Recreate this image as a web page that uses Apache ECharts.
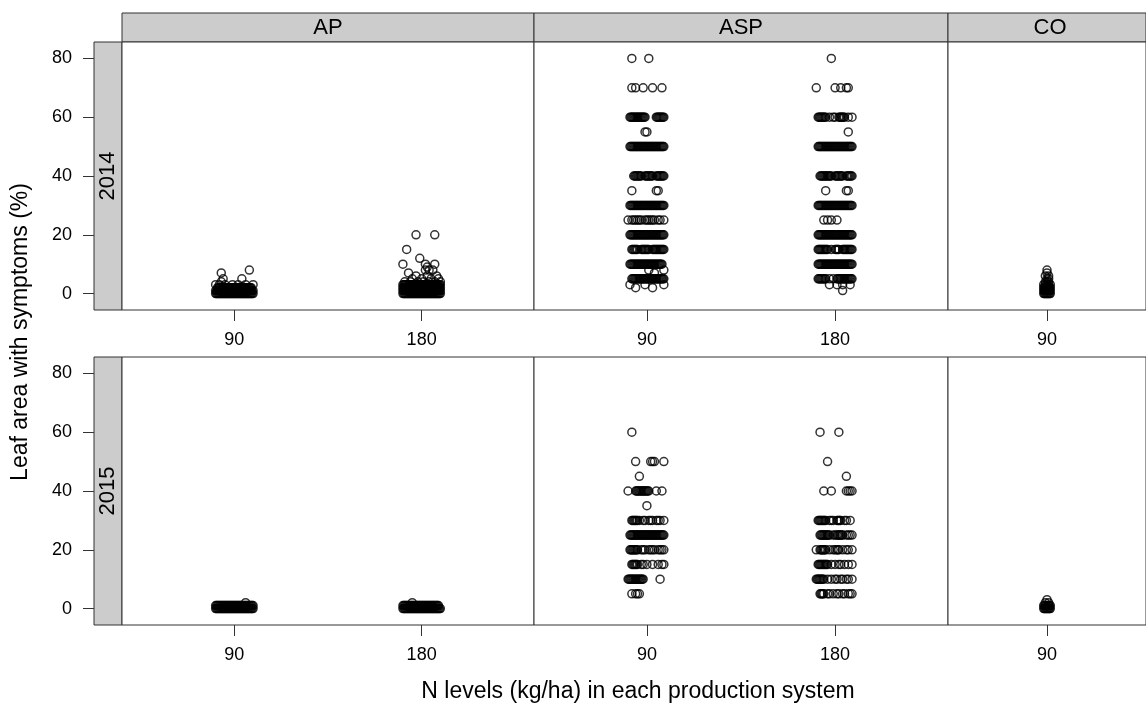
<!DOCTYPE html>
<html>
<head>
<meta charset="utf-8">
<script src="https://cdn.jsdelivr.net/npm/echarts@6/dist/echarts.min.js"></script>
<style>
html,body{margin:0;padding:0;background:#fff;}
#chart{width:1146px;height:706px;}
</style>
</head>
<body>
<div id="chart"></div>
<script>
// ---------- data ----------
const systems = ['AP', 'ASP', 'CO'];
const years = ['2014', '2015'];
const levelsAP = ['90', '180'];
const levelsASP = ['90', '180'];
const levelsCO = ['90'];
const yTicks = [0, 20, 40, 60, 80];
const yTitle = 'Leaf area with symptoms (%)';
const xTitle = 'N levels (kg/ha) in each production system';

// shorthand for a packed run of jittered points (offsets a..b, every half unit)
function run(a, b) { const o = []; for (let v = a; v <= b + 1e-9; v += 0.5) o.push(v); return o; }

// rows: [value (% leaf area), [jitter offsets, in 1/100 of a level step]]
const AP_2014_90 = [
  [0, run(-10, 10)], [1, run(-10, 10)], [2, run(-9, 9)],
  [3, [-10, -8, -5, -1, 2, 6, 10]],
  [4, [-7]], [5, [-6, 4]], [7, [-7]], [8, [8]]
];
const AP_2014_180 = [
  [0, run(-10, 10)], [1, run(-10, 10)], [2, run(-10, 10)], [3, run(-10, 10)],
  [4, [-9, -6, -2, 1, 4, 7, 10]],
  [5, [-5, 0, 5, 9]], [6, [-3, 3, 8]], [7, [-7]],
  [8, [2, 4, 6]], [9, [3]], [10, [-10, 2, 7]],
  [12, [-1]], [15, [-8]], [20, [-3, 7]]
];
const AP_2015_90 = [
  [0, run(-10, 10)], [1, run(-10, 10)], [2, [6]]
];
const AP_2015_180 = [
  [0, run(-10, 10)], [1, run(-10, 9)], [2, [-5]]
];
const ASP_2014_90 = [
  [80, [-8, 1]],
  [70, [-8, -6, -2, 3, 8]],
  [60, [...run(-9, -1), ...run(5, 9)]],
  [55, [-1, 0]],
  [50, run(-9, 9)],
  [40, [...run(-7, -3), ...run(-1, 3), ...run(5, 9)]],
  [35, [-8, 5, 6]],
  [30, run(-9, 9)],
  [25, [-10, -8, -7, -6, -5, -4, -3, -1, 0, 1, 2, 3, 4, 6, 7, 9]],
  [20, run(-9, 9)],
  [15, [...run(-8, -5), ...run(-3, 1), ...run(3, 9)]],
  [10, run(-9, 8)],
  [8, [1, 9]], [7, [4]],
  [5, run(-8, 9)],
  [3, [-9, -1, 9]], [2, [-6, 3]]
];
const ASP_2014_180 = [
  [80, [-2]],
  [70, [-10, 0, 3, 6, 7]],
  [60, [...run(-9, -5), -3, -1, 0, ...run(2, 5), 7, 9]],
  [55, [7]],
  [50, run(-9, 9)],
  [40, [...run(-8, -2), ...run(0, 4), ...run(6, 9)]],
  [35, [-5, 6, 7]],
  [30, run(-9, 9)],
  [25, [-6, -4, -2, 1]],
  [20, run(-9, 9)],
  [15, [...run(-9, -4), -2, ...run(0, 2), ...run(4, 9)]],
  [10, run(-9, 9)],
  [5, [...run(-9, -5), -3, -1, ...run(1, 9)]],
  [3, [-3, 1, 4, 8]], [1, [4]]
];
const ASP_2015_90 = [
  [60, [-8]],
  [50, [-6, 2, 3, 4, 9]],
  [45, [-4]],
  [40, [-10, ...run(-6, 1), 5, 8]],
  [35, [0]],
  [30, [...run(-8, -5), -4, -2, -1, 1, 2, 3, 5, 6, 7, 9]],
  [25, run(-9, 9)],
  [20, [...run(-9, -5), -3, -2, -1, 1, 2, 3, 4, 6, 7, 8, 9]],
  [15, [...run(-8, -5), -3, -2, 0, 3, 6, 8, 9]],
  [10, [...run(-10, -2), 7]],
  [5, [-8, -6, -5, -4]]
];
const ASP_2015_180 = [
  [60, [-8, 2]],
  [50, [-4]],
  [45, [6]],
  [40, [-6, -2, 6, 7, 8, 9]],
  [30, [...run(-9, -5), -3, -2, -1, ...run(1, 3), 5, 6, 8]],
  [25, [...run(-8, -3), -1, 0, ...run(1, 4), 6, 7, 8, 9]],
  [20, [-10, ...run(-8, -5), -3, -1, 0, ...run(1, 2), 4, 6, 7, 9]],
  [15, [...run(-9, -4), -2, 0, 2, 3, 5, 7, 9]],
  [10, [...run(-10, -6), -4, -2, 0, 1, 3, 4, 6, 7, 9]],
  [5, [...run(-8, -6), -4, -3, -1, 1, 2, 4, 5, 7, 8, 9]]
];
const CO_2014_90 = [
  [0, run(-2, 2)], [1, run(-2, 2)], [2, run(-2, 2)],
  [3, [-2, -1, 0, 1, 2]], [4, [-1, 0, 1]], [5, [0, 1]], [6, [-1, 1]], [7, [0]], [8, [0]]
];
const CO_2015_90 = [
  [0, run(-2, 2)], [1, run(-2, 2)], [2, [-1, 1]], [3, [0]]
];

// ---------- layout ----------
const FONT = "'Liberation Sans', Arial, Helvetica, sans-serif";
const Y_MIN = -5.6, Y_MAX = 85.6;
const rowTop = [42, 357], rowH = 268;
const colLeft = [122, 534, 948], colW = [412, 414, 208];
const colLevels = [levelsAP, levelsASP, levelsCO];
const panelGroups = [
  [[AP_2014_90, AP_2014_180], [ASP_2014_90, ASP_2014_180], [CO_2014_90]],
  [[AP_2015_90, AP_2015_180], [ASP_2015_90, ASP_2015_180], [CO_2015_90]]
];

const grid = [], xAxis = [], yAxis = [], series = [];
const hidden = (i, extra) => Object.assign({ gridIndex: i, show: false, type: 'value' }, extra || {});

// row strips (with y axes)
years.forEach((yr, r) => {
  const gi = grid.length;
  grid.push({ left: 94, top: rowTop[r], width: 28, height: rowH, show: true,
    backgroundColor: '#cccccc', borderColor: '#333', borderWidth: 1 });
  xAxis.push(hidden(gi, { min: 0, max: 1 }));
  yAxis.push({
    gridIndex: gi, type: 'value', min: Y_MIN, max: Y_MAX, position: 'left',
    axisLine: { show: false, onZero: false },
    splitLine: { show: false },
    axisTick: { show: true, inside: false, length: 11, customValues: yTicks, lineStyle: { color: '#333', width: 1 } },
    axisLabel: { show: true, customValues: yTicks, margin: 22, fontSize: 18, color: '#000', fontFamily: FONT }
  });
});
// column headers
systems.forEach((s, c) => {
  const gi = grid.length;
  grid.push({ left: colLeft[c], top: 13, width: colW[c], height: 29, show: true,
    backgroundColor: '#cccccc', borderColor: '#333', borderWidth: 1 });
  xAxis.push(hidden(gi, { min: 0, max: 1 }));
  yAxis.push(hidden(gi, { min: 0, max: 1 }));
});
// data panels
years.forEach((yr, r) => {
  systems.forEach((s, c) => {
    const gi = grid.length;
    const lv = colLevels[c];
    const ticks = lv.map((_, i) => i + 1);
    grid.push({ left: colLeft[c], top: rowTop[r], width: colW[c], height: rowH, show: true,
      backgroundColor: '#fff', borderColor: '#333', borderWidth: 1 });
    xAxis.push({
      gridIndex: gi, type: 'value', min: 0.4, max: lv.length + 0.6, position: 'bottom',
      axisLine: { show: false, onZero: false }, splitLine: { show: false },
      axisTick: { show: true, inside: false, length: 11, customValues: ticks, lineStyle: { color: '#333', width: 1 } },
      axisLabel: { show: true, customValues: ticks, margin: 21, fontSize: 18, color: '#000', fontFamily: FONT,
        formatter: v => lv[Math.round(v) - 1] }
    });
    yAxis.push(hidden(gi, { min: Y_MIN, max: Y_MAX }));
    panelGroups[r][c].forEach((rows, li) => {
      const data = [];
      rows.forEach(([val, jit]) => jit.forEach(j => data.push([li + 1 + j / 100, val])));
      series.push({
        type: 'scatter', xAxisIndex: gi, yAxisIndex: gi, data,
        symbol: 'circle', symbolSize: 8,
        itemStyle: { color: 'rgba(0,0,0,0)', borderColor: '#000', borderWidth: 1.5 },
        emphasis: { disabled: true }, silent: true, progressive: 0
      });
    });
  });
});

const txt = (x, y, text, size, rot) => ({
  type: 'text', x, y, rotation: rot || 0, silent: true,
  style: { text, fill: '#000', font: size + 'px ' + FONT, textAlign: 'center', textVerticalAlign: 'middle' }
});
const graphic = [];
systems.forEach((s, c) => graphic.push(txt(colLeft[c] + colW[c] / 2 - (c === 2 ? 2 : 0), 28, s, 22)));
years.forEach((yr, r) => graphic.push(txt(108, rowTop[r] + rowH / 2, yr, 22, Math.PI / 2)));
graphic.push(txt(21, 332, yTitle, 23, Math.PI / 2));
graphic.push(txt(638, 692, xTitle, 23));

const chart = echarts.init(document.getElementById('chart'), null, { renderer: 'canvas' });
chart.setOption({
  animation: false,
  backgroundColor: '#fff',
  grid, xAxis, yAxis, series, graphic
});
</script>
</body>
</html>
